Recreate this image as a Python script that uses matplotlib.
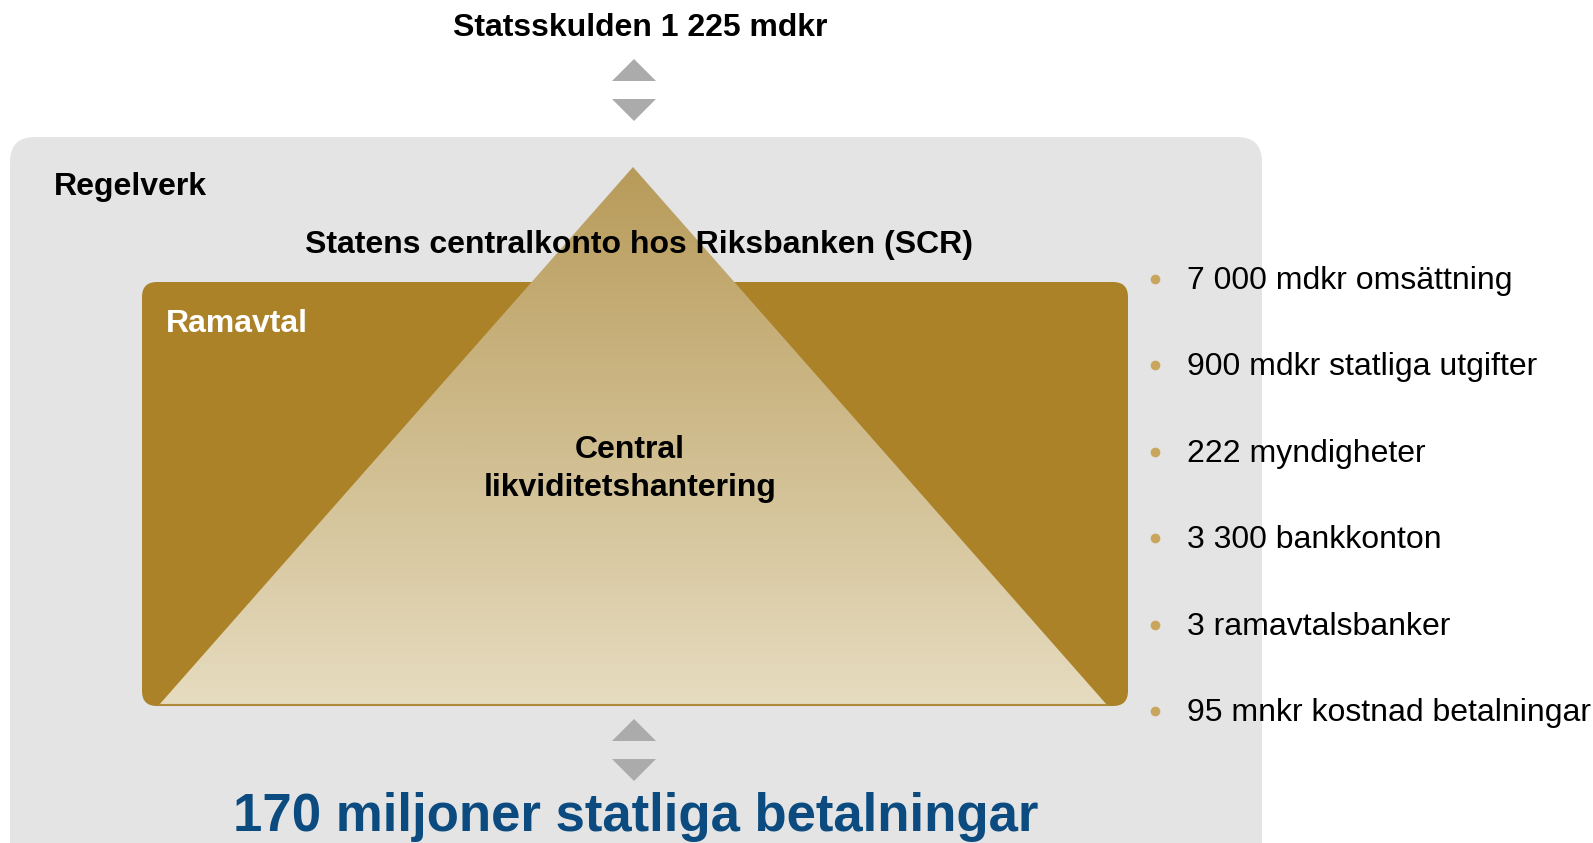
import matplotlib
matplotlib.use("Agg")
import matplotlib.pyplot as plt
import numpy as np
from matplotlib.patches import FancyBboxPatch, Polygon

plt.rcParams['font.family'] = ['Liberation Sans', 'DejaVu Sans']

# texts of the diagram
top_title = "Statsskulden 1 225 mdkr"
outer_label = "Regelverk"
scr_label = "Statens centralkonto hos Riksbanken (SCR)"
inner_label = "Ramavtal"
center_label = "Central\nlikviditetshantering"
bottom_title = "170 miljoner statliga betalningar"
facts = ["7 000 mdkr omsättning",
         "900 mdkr statliga utgifter",
         "222 myndigheter",
         "3 300 bankkonton",
         "3 ramavtalsbanker",
         "95 mnkr kostnad betalningar"]

gray = "#e4e4e4"
gold = "#ab8228"
tri_top = "#b89b5a"
tri_bot = "#e6dcc0"
arrow_col = "#ababab"
dot_col = "#c9a55e"
blue = "#0b4b80"

W, H = 1593, 843
fig = plt.figure(figsize=(W / 100, H / 100), dpi=100)
ax = fig.add_axes([0, 0, 1, 1])
ax.set_xlim(0, W)
ax.set_ylim(H, 0)
ax.axis("off")

# outer gray box
ax.add_patch(FancyBboxPatch((10 + 25, 137 + 25), 1252 - 50, 760,
                            boxstyle="round,pad=25", fc=gray, ec="none", zorder=1))

# inner gold box
ax.add_patch(FancyBboxPatch((142 + 15, 282 + 15), 986 - 30, 424 - 30,
                            boxstyle="round,pad=15", fc=gold, ec="none", zorder=2))

# pyramid with vertical gradient
apex = (633, 167)
bl = (159, 705)
br = (1107, 705)
tri = Polygon([apex, bl, br], closed=True, fc="none", ec="none")
ax.add_patch(tri)
c1 = np.array(matplotlib.colors.to_rgb(tri_top))
c2 = np.array(matplotlib.colors.to_rgb(tri_bot))
t = np.linspace(0, 1, 256)[:, None, None]
grad = c1 * (1 - t) + c2 * t
grad = np.repeat(grad, 2, axis=1)
im = ax.imshow(grad, extent=(bl[0], br[0], bl[1], apex[1]), aspect="auto",
               interpolation="bilinear", zorder=3)
im.set_clip_path(tri)
ax.plot([bl[0], br[0]], [705, 705], color="#b08a3a", lw=1.5, zorder=4)

# arrows
def arrows(y_up_tip):
    up = Polygon([(612, y_up_tip + 22), (634, y_up_tip), (656, y_up_tip + 22)],
                 fc=arrow_col, ec="none", zorder=5)
    dn = Polygon([(612, y_up_tip + 40), (656, y_up_tip + 40), (634, y_up_tip + 62)],
                 fc=arrow_col, ec="none", zorder=5)
    ax.add_patch(up)
    ax.add_patch(dn)

arrows(59)
arrows(719)

# texts
fs = 23
ax.text(640, 28, top_title, ha="center", va="center", fontsize=fs,
        fontweight="bold", zorder=6)
ax.text(54, 187, outer_label, ha="left", va="center", fontsize=fs,
        fontweight="bold", zorder=6)
ax.text(639, 245, scr_label, ha="center", va="center", fontsize=fs,
        fontweight="bold", zorder=6)
ax.text(166, 324, inner_label, ha="left", va="center", fontsize=fs,
        fontweight="bold", color="white", zorder=6)
ax.text(630, 469, center_label, ha="center", va="center", fontsize=fs,
        fontweight="bold", linespacing=1.33, zorder=6)
ax.text(636, 817, bottom_title, ha="center", va="center", fontsize=38,
        fontweight="bold", color=blue, zorder=6)

for i, s in enumerate(facts):
    y = 280 + i * 86.4
    ax.plot(1155, y - 1, "o", ms=7, color=dot_col, mec="none", zorder=6)
    ax.text(1187, y + 1, s, ha="left", va="center", fontsize=fs, zorder=6)

fig.savefig("out.png", dpi=100)
